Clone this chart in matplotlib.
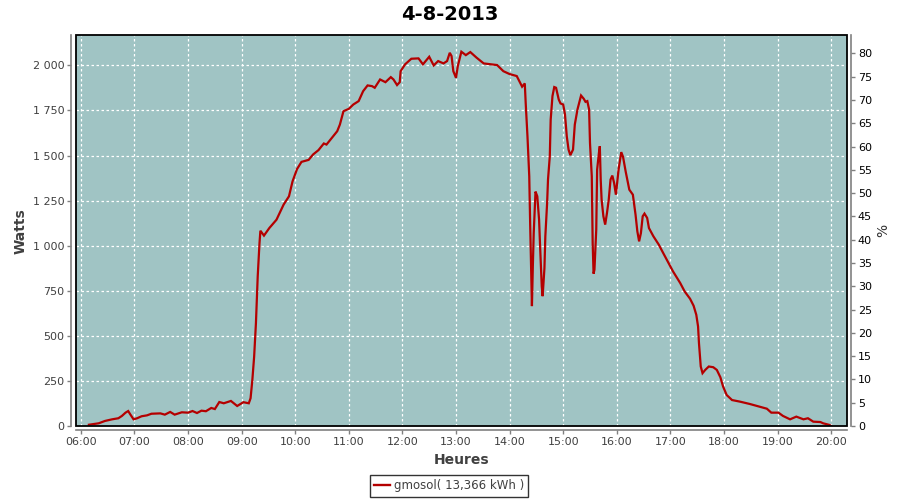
import matplotlib
matplotlib.use("Agg")
import matplotlib.pyplot as plt
from matplotlib.patches import Rectangle
from matplotlib.lines import Line2D

title = "4-8-2013"
series_name = "gmosol( 13,366 kWh )"

times = ["06:09", "06:20", "06:27", "06:35", "06:42", "06:46", "06:50", "06:53", "06:55", "06:59",
         "07:03", "07:08", "07:14", "07:19", "07:29", "07:34", "07:40", "07:45", "07:53", "08:00",
         "08:05", "08:10", "08:15", "08:20", "08:26", "08:30", "08:35", "08:40", "08:48", "08:55",
         "09:02", "09:08", "09:10", "09:12", "09:14", "09:16", "09:18", "09:20", "09:21", "09:25",
         "09:31", "09:39", "09:47", "09:53", "09:57", "10:02", "10:07", "10:15", "10:20", "10:26",
         "10:32", "10:35", "10:41", "10:47", "10:50", "10:54", "11:00", "11:05", "11:11", "11:16",
         "11:21", "11:26", "11:29", "11:35", "11:41", "11:47", "11:50", "11:54", "11:57", "11:58",
         "12:03", "12:10", "12:18", "12:23", "12:30", "12:35", "12:40", "12:46", "12:50", "12:53",
         "12:55", "12:57", "13:00", "13:02", "13:06", "13:11", "13:16", "13:23", "13:31", "13:46",
         "13:53", "14:00", "14:08", "14:14", "14:17", "14:18", "14:20", "14:22", "14:23", "14:24",
         "14:25", "14:26", "14:27", "14:29", "14:31", "14:33", "14:34", "14:36", "14:37", "14:39",
         "14:40", "14:42", "14:43", "14:45", "14:46", "14:48", "14:50", "14:52", "14:55", "14:57",
         "15:00", "15:02", "15:04", "15:06", "15:08", "15:11", "15:13", "15:16", "15:20", "15:23",
         "15:25", "15:27", "15:29", "15:30", "15:32", "15:33", "15:34", "15:35", "15:37", "15:38",
         "15:40", "15:41", "15:42", "15:43", "15:45", "15:47", "15:49", "15:51", "15:53", "15:55",
         "15:57", "15:59", "16:02", "16:05", "16:07", "16:10", "16:14", "16:18", "16:21", "16:23",
         "16:25", "16:27", "16:29", "16:31", "16:34", "16:36", "16:41", "16:47", "16:52", "16:58",
         "17:03", "17:11", "17:16", "17:22", "17:26", "17:29", "17:31", "17:32", "17:34", "17:36",
         "17:39", "17:43", "17:48", "17:52", "17:56", "17:59", "18:03", "18:09", "18:18", "18:29",
         "18:40", "18:48", "18:53", "19:01", "19:06", "19:14", "19:21", "19:29", "19:34", "19:40",
         "19:48", "19:51", "19:58", "20:00"]

watts = [7, 15, 28, 37, 43, 56, 74, 83, 67, 37,
         43, 54, 59, 68, 70, 63, 78, 63, 76, 74,
         83, 72, 85, 82, 100, 94, 133, 126, 139, 111,
         132, 126, 154, 256, 385, 570, 830, 1015, 1083, 1056,
         1098, 1144, 1228, 1274, 1357, 1425, 1465, 1476, 1506, 1530,
         1567, 1561, 1598, 1635, 1672, 1746, 1759, 1783, 1802, 1857,
         1889, 1885, 1876, 1922, 1907, 1935, 1922, 1891, 1907, 1968,
         2006, 2037, 2039, 2006, 2048, 2000, 2024, 2011, 2024, 2070,
         2052, 1968, 1931, 1996, 2076, 2057, 2074, 2043, 2011, 2002,
         1968, 1952, 1941, 1882, 1900, 1793, 1607, 1385, 1126, 904,
         665, 885, 1070, 1300, 1274, 1144, 1015, 774, 720, 876,
         1052, 1237, 1367, 1496, 1700, 1830, 1880, 1876, 1811, 1789,
         1783, 1728, 1607, 1533, 1502, 1533, 1672, 1756, 1833, 1815,
         1798, 1802, 1756, 1570, 1385, 1015, 845, 867, 1089, 1422,
         1515, 1552, 1367, 1256, 1163, 1117, 1181, 1256, 1367, 1389,
         1348, 1283, 1422, 1519, 1493, 1410, 1311, 1283, 1172, 1080,
         1024, 1070, 1163, 1178, 1154, 1098, 1052, 1006, 959, 904,
         857, 793, 746, 706, 667, 617, 552, 460, 330, 293,
         311, 330, 326, 311, 270, 219, 172, 144, 135, 122,
         107, 96, 74, 74, 56, 37, 52, 37, 43, 24,
         22, 15, 6, 0]

hour_ticks = ["06:00", "07:00", "08:00", "09:00", "10:00", "11:00", "12:00", "13:00",
              "14:00", "15:00", "16:00", "17:00", "18:00", "19:00", "20:00"]
watt_ticks = [0, 250, 500, 750, 1000, 1250, 1500, 1750, 2000]
pct_ticks = list(range(0, 85, 5))


def to_hours(s):
    h, m = s.split(":")
    return int(h) + int(m) / 60.0


x = [to_hours(t) for t in times]
xt = [to_hours(t) for t in hour_ticks]

bg = "#a0c4c4"
red = "#b40000"
gray = "#808080"

fig = plt.figure(figsize=(9, 5), dpi=100)
ax = fig.add_axes([75.5 / 900, 74 / 500, (846.7 - 75.5) / 900, (426 - 35.3) / 500])
ax.set_facecolor(bg)
ax.plot(x, watts, color=red, lw=1.6, solid_joinstyle="miter", zorder=3)

ax.set_xlim(5.9, 20.29)
ax.set_ylim(0, 2167)
ax.set_xticks(xt)
ax.set_xticklabels(hour_ticks)
ax.set_yticks(watt_ticks)
ax.set_yticklabels([f"{v:,}".replace(",", " ") for v in watt_ticks])

ax.grid(True, color="white", ls=(0, (2, 2)), lw=0.9)
ax.set_axisbelow(True)

for s in ["top", "right"]:
    ax.spines[s].set_visible(False)
for s in ["left", "bottom"]:
    ax.spines[s].set_position(("outward", 3))
    ax.spines[s].set_color(gray)
    ax.spines[s].set_linewidth(1.2)
ax.tick_params(axis="both", color=gray, length=3, width=1, labelsize=8,
               labelcolor="#404040", pad=2)

ax.add_patch(Rectangle((0, 0), 1, 1, transform=ax.transAxes, fill=False,
                       edgecolor="black", lw=1.3, clip_on=False, zorder=5))

ax2 = ax.twinx()
ax2.set_ylim(0, 83.9)
ax2.set_yticks(pct_ticks)
for s in ["top", "left", "bottom"]:
    ax2.spines[s].set_visible(False)
ax2.spines["right"].set_position(("outward", 3))
ax2.spines["right"].set_color(gray)
ax2.spines["right"].set_linewidth(1.2)
ax2.tick_params(axis="y", color=gray, length=3, width=1, labelsize=8,
                labelcolor="black", pad=2)
ax2.set_ylabel("%", fontsize=10, color="#303030", labelpad=3)

ax.set_ylabel("Watts", fontsize=10, fontweight="bold", color="#404040", labelpad=4)
ax.set_xlabel("Heures", fontsize=10, fontweight="bold", color="#404040", labelpad=4)

fig.text(450 / 900, 1 - 14 / 500, title, ha="center", va="center",
         fontsize=14, fontweight="bold", color="black")

handle = Line2D([], [], color=red, lw=1.7)
leg = fig.legend([handle], [series_name], loc="center",
                 bbox_to_anchor=(449 / 900, 1 - 486 / 500), frameon=True,
                 fontsize=8.5, handlelength=1.4, handletextpad=0.3,
                 borderpad=0.35, fancybox=False, borderaxespad=0)
leg.get_frame().set_edgecolor("black")
leg.get_frame().set_linewidth(1.0)
for t in leg.get_texts():
    t.set_color("#404040")

fig.savefig("out.png", dpi=100)
